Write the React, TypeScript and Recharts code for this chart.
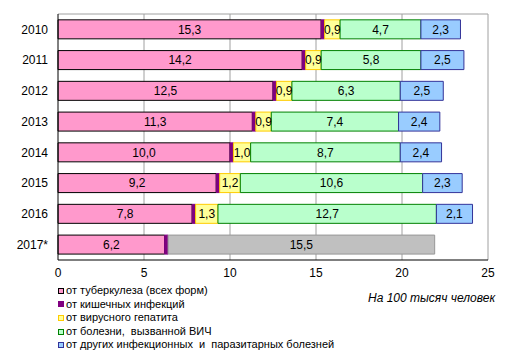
import { Bar, BarChart, CartesianGrid, LabelList, XAxis, YAxis } from 'recharts';

const years = ['2010', '2011', '2012', '2013', '2014', '2015', '2016', '2017*'];
const tuberculosis = [15.3, 14.2, 12.5, 11.3, 10.0, 9.2, 7.8, 6.2];
const intestinal = [0.2, 0.2, 0.2, 0.2, 0.2, 0.2, 0.2, 0.2];
const hepatitis = [0.9, 0.9, 0.9, 0.9, 1.0, 1.2, 1.3, null];
const hiv = [4.7, 5.8, 6.3, 7.4, 8.7, 10.6, 12.7, null];
const other = [2.3, 2.5, 2.5, 2.4, 2.4, 2.3, 2.1, null];
const combined2017 = [null, null, null, null, null, null, null, 15.5];
const xTicks = [0, 5, 10, 15, 20, 25];

const data = years.map((year, i) => ({
  year,
  tb: tuberculosis[i],
  gut: intestinal[i],
  hep: hepatitis[i],
  hiv: hiv[i],
  other: other[i],
  rest: combined2017[i],
}));

const series = [
  { key: 'tb', name: 'от туберкулеза (всех форм)', fill: '#FF99CC', stroke: '#000000', label: true },
  { key: 'gut', name: 'от кишечных инфекций', fill: '#800080', stroke: '#800080', label: false },
  { key: 'hep', name: 'от вирусного гепатита', fill: '#FFFF99', stroke: '#FFCC00', label: true },
  { key: 'hiv', name: 'от болезни,  вызванной ВИЧ', fill: '#B9FFCC', stroke: '#008000', label: true },
  { key: 'other', name: 'от других инфекционных  и  паразитарных болезней', fill: '#99CCFF', stroke: '#333399', label: true },
];

const font = '"Liberation Sans", Arial, sans-serif';
const fmt = (v: unknown) => (typeof v === 'number' ? v.toFixed(1).replace('.', ',') : '');

export default function App() {
  return (
    <div style={{ position: 'fixed', left: 0, top: 0, width: 511, height: 355, background: '#fff', fontFamily: font }}>
      <BarChart
        width={511}
        height={355}
        data={data}
        layout="vertical"
        margin={{ top: 14, right: 23, left: 0, bottom: 75 }}
        barCategoryGap="19%"
      >
        <CartesianGrid
          stroke="#a0a0a0"
          verticalCoordinatesGenerator={({ offset }) => {
            const step = (offset.width as number) / 5;
            return [1, 2, 3, 4, 5].map((k) => (offset.left as number) + step * k);
          }}
          horizontalCoordinatesGenerator={({ offset }) => [offset.top as number]}
        />
        <XAxis
          type="number"
          domain={[0, 25]}
          ticks={xTicks}
          tickLine={false}
          axisLine={{ stroke: '#000' }}
          tick={{ fill: '#000', fontSize: 12, fontFamily: font }}
          height={20}
        />
        <YAxis
          type="category"
          dataKey="year"
          width={58}
          tickLine={false}
          tickMargin={4}
          axisLine={{ stroke: '#000' }}
          tick={{ fill: '#000', fontSize: 12, fontFamily: font }}
        />
        {series.map((s) => (
          <Bar key={s.key} dataKey={s.key} stackId="a" fill={s.fill} stroke={s.stroke} strokeWidth={1} isAnimationActive={false}>
            {s.label && (
              <LabelList dataKey={s.key} position="center" formatter={fmt} fill="#000" fontSize={12} fontFamily={font} />
            )}
          </Bar>
        ))}
        <Bar dataKey="rest" stackId="a" fill="#C0C0C0" stroke="#969696" strokeWidth={1} isAnimationActive={false}>
          <LabelList dataKey="rest" position="center" formatter={fmt} fill="#000" fontSize={12} fontFamily={font} />
        </Bar>
      </BarChart>
      <div style={{ position: 'absolute', left: 58, top: 284, fontSize: 11, lineHeight: '13.6px', color: '#000' }}>
        {series.map((s) => (
          <div key={s.key} style={{ display: 'flex', alignItems: 'center', whiteSpace: 'pre' }}>
            <span
              style={{
                display: 'inline-block',
                width: 4,
                height: 4,
                background: s.fill,
                border: `1px solid ${s.key === 'tb' ? '#000' : s.stroke}`,
                marginRight: 2,
              }}
            />
            {s.name}
          </div>
        ))}
      </div>
      <div style={{ position: 'absolute', left: 368, top: 291, fontSize: 12, fontStyle: 'italic', color: '#000' }}>
        На 100 тысяч человек
      </div>
    </div>
  );
}
